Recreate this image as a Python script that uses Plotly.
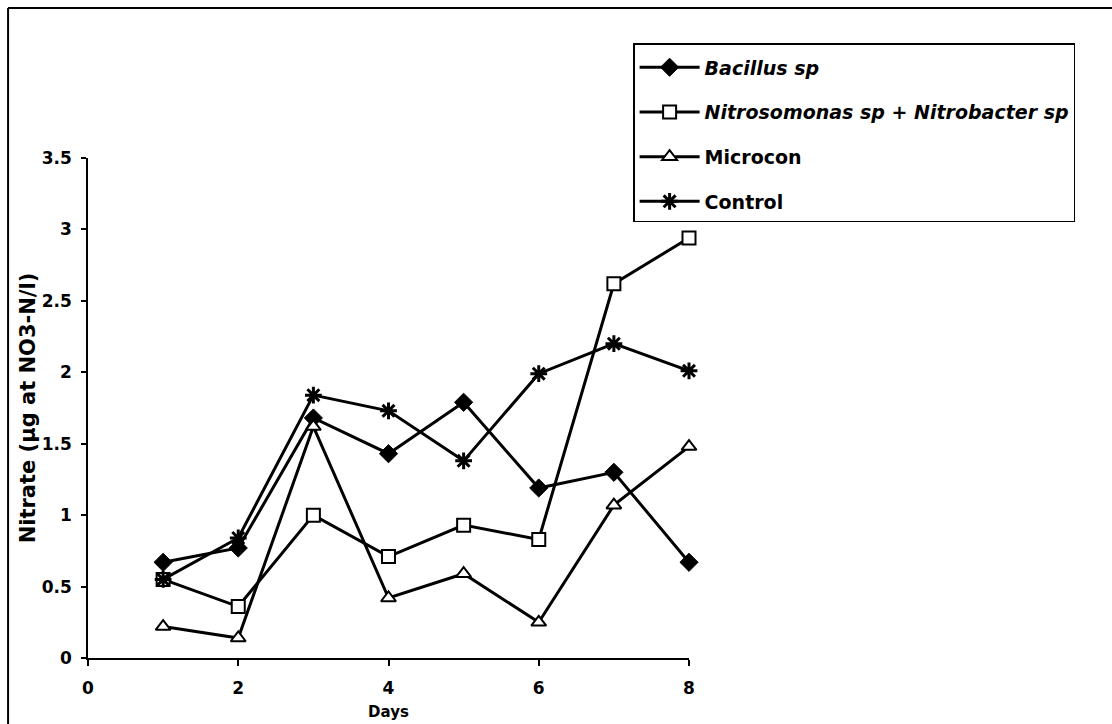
import plotly.graph_objects as go

days = [1, 2, 3, 4, 5, 6, 7, 8]
bacillus = [0.67, 0.77, 1.68, 1.43, 1.79, 1.19, 1.30, 0.67]
nitro = [0.55, 0.36, 1.00, 0.71, 0.93, 0.83, 2.62, 2.94]
microcon = [0.22, 0.14, 1.62, 0.42, 0.59, 0.25, 1.07, 1.48]
control = [0.55, 0.84, 1.84, 1.73, 1.38, 1.99, 2.20, 2.01]

names = ["<i>Bacillus sp</i>",
         "<i>Nitrosomonas sp + Nitrobacter sp</i>",
         "Microcon",
         "Control"]

FONT = "DejaVu Sans, Liberation Sans, Arial, sans-serif"

fig = go.Figure()

series = [
    (bacillus, names[0], dict(symbol="diamond", size=14, color="black",
                              line=dict(color="black", width=1))),
    (nitro, names[1], dict(symbol="square", size=13, color="white",
                           line=dict(color="black", width=2))),
    (microcon, names[2], dict(symbol="triangle-up", size=13, color="white",
                              line=dict(color="black", width=2))),
    (control, names[3], dict(symbol="asterisk-open", size=14, color="black",
                             line=dict(color="black", width=3))),
]

for i, (vals, name, marker) in enumerate(series):
    fig.add_trace(go.Scatter(
        x=days, y=vals, name=name, mode="lines+markers",
        line=dict(color="black", width=3),
        marker=marker, legendgroup=f"g{i}", cliponaxis=False,
    ))

# outer chart frame: only its top and left edges fall inside the page
fig.add_shape(type="line", xref="paper", yref="paper",
              x0=-0.133, x1=2.0, y0=1.3, y1=1.3,
              line=dict(color="black", width=2))
fig.add_shape(type="line", xref="paper", yref="paper",
              x0=-0.133, x1=-0.133, y0=-0.3, y1=1.3,
              line=dict(color="black", width=2))

fig.update_layout(
    width=1112, height=724,
    margin=dict(l=88, r=423, t=158, b=66),
    paper_bgcolor="white", plot_bgcolor="white",
    font=dict(family=FONT, color="black", size=16),
    showlegend=True,
    legend=dict(
        x=0.907, y=1.23, xanchor="left", yanchor="top",
        bordercolor="black", borderwidth=1.5, bgcolor="white",
        font=dict(family=FONT, size=19, color="black", weight="bold"),
        title=dict(text=" ", font=dict(size=3)),
        tracegroupgap=17, itemwidth=60,
    ),
    xaxis=dict(
        range=[0, 8], dtick=2, tick0=0, automargin=False,
        showgrid=False, zeroline=False,
        showline=True, linecolor="black", linewidth=1.5,
        ticks="outside", ticklen=6, tickwidth=1.5, tickcolor="black",
        ticklabelstandoff=8,
        tickfont=dict(family=FONT, size=17, weight="bold"),
        title=dict(text="Days", standoff=9,
                   font=dict(family=FONT, size=15, weight="bold")),
    ),
    yaxis=dict(
        range=[0, 3.5], dtick=0.5, tick0=0, automargin=False,
        showgrid=False, zeroline=False,
        showline=True, linecolor="black", linewidth=1.5,
        ticks="outside", ticklen=5, tickwidth=1.5, tickcolor="black",
        ticklabelstandoff=6,
        tickfont=dict(family=FONT, size=17, weight="bold"),
        title=dict(text="Nitrate (µg at NO3-N/l)", standoff=0,
                   font=dict(family=FONT, size=21, weight="bold")),
    ),
)

fig.write_html("out.html")
